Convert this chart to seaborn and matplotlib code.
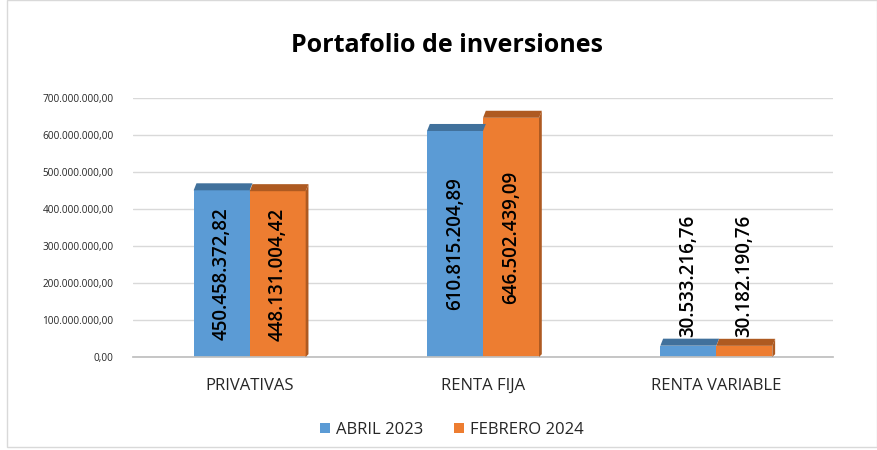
import matplotlib
matplotlib.use("Agg")
import matplotlib.pyplot as plt
import seaborn as sns
import pandas as pd
from matplotlib.patches import Polygon, Rectangle, Patch

categories = ["PRIVATIVAS", "RENTA FIJA", "RENTA VARIABLE"]
series_names = ["ABRIL 2023", "FEBRERO 2024"]
abril_2023 = [450458372.82, 610815204.89, 30533216.76]
febrero_2024 = [448131004.42, 646502439.09, 30182190.76]
value_labels_abril = ["450.458.372,82", "610.815.204,89", "30.533.216,76"]
value_labels_febrero = ["448.131.004,42", "646.502.439,09", "30.182.190,76"]
y_ticks = [0, 100e6, 200e6, 300e6, 400e6, 500e6, 600e6, 700e6]
y_tick_labels = ["0,00", "100.000.000,00", "200.000.000,00", "300.000.000,00",
                 "400.000.000,00", "500.000.000,00", "600.000.000,00", "700.000.000,00"]

colors = {"ABRIL 2023": "#5B9BD5", "FEBRERO 2024": "#ED7D31"}
top_colors = ["#41719C", "#AE5A21"]

df = pd.DataFrame({
    "cat": categories * 2,
    "serie": [series_names[0]] * 3 + [series_names[1]] * 3,
    "valor": abril_2023 + febrero_2024,
})

sns.set_theme(style="white")
plt.rcParams["font.family"] = ["Open Sans", "DejaVu Sans"]

fig = plt.figure(figsize=(8.78, 4.50), dpi=100)
ax = fig.add_axes([133 / 878, 1 - 357 / 450, 700 / 878, 259 / 450])

sns.barplot(data=df, x="cat", y="valor", hue="serie", palette=colors,
            width=0.48, ax=ax, legend=False, saturation=1, linewidth=0)

ax.set_xlim(-0.5, 2.5)
ax.set_ylim(0, 700e6)
ax.set_yticks(y_ticks)
ax.set_yticklabels(y_tick_labels, fontsize=7.2, color="#262626")
ax.tick_params(axis="x", labelsize=12, colors="#262626", pad=15, length=0)
ax.tick_params(axis="y", pad=14, length=0)
ax.set_xlabel("")
ax.set_ylabel("")
for s in ["top", "right", "left"]:
    ax.spines[s].set_visible(False)
ax.spines["bottom"].set_color("#BFBFBF")
ax.yaxis.grid(True, color="#D9D9D9", linewidth=1)
ax.set_axisbelow(True)

# 3D-like caps
dy = 19e6
dx = 0.012
bars = ax.patches[:6]
labels = value_labels_abril + value_labels_febrero
for i, b in enumerate(bars):
    x0 = b.get_x(); w = b.get_width(); h = b.get_height()
    tc = top_colors[0] if i < 3 else top_colors[1]
    top = Polygon([(x0, h), (x0 + w, h), (x0 + w + dx, h + dy), (x0 + dx, h + dy)],
                  closed=True, facecolor=tc, edgecolor="none", zorder=3)
    ax.add_patch(top)
    if i >= 3:
        side = Polygon([(x0 + w, 0), (x0 + w + dx, dy * 0.4), (x0 + w + dx, h + dy), (x0 + w, h)],
                       closed=True, facecolor=tc, edgecolor="none", zorder=3)
        ax.add_patch(side)
    cx = x0 + w / 2
    if h > 200e6:
        ax.text(cx, h / 2, labels[i], rotation=90, ha="center", va="center",
                fontsize=13.5, fontweight="semibold", color="black", zorder=5)
    else:
        ax.text(cx, h + dy + 4e6, labels[i], rotation=90, ha="center", va="bottom",
                fontsize=13.5, fontweight="semibold", color="black", zorder=5)

fig.text(447 / 878, 1 - 45 / 450, "Portafolio de inversiones", ha="center", va="center",
         fontsize=18, fontweight="bold", color="black")

handles = [Patch(facecolor=colors[s], edgecolor="none") for s in series_names]
fig.legend(handles, series_names, loc="center", bbox_to_anchor=(452 / 878, 1 - 430 / 450),
           ncol=2, frameon=False, fontsize=12, handlelength=0.6, handleheight=0.6,
           columnspacing=1.8, handletextpad=0.4, labelcolor="#262626")

fig.patches.append(Rectangle((7 / 878, 3 / 450), 1 - 8 / 878, 1 - 3 / 450,
                             transform=fig.transFigure, fill=False,
                             edgecolor="#D9D9D9", linewidth=1))

fig.savefig("out.png", dpi=100)
